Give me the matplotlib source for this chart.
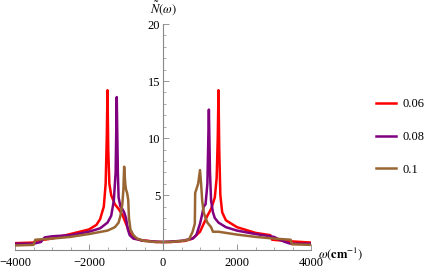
import matplotlib
matplotlib.use("Agg")
import matplotlib.pyplot as plt
from matplotlib.ticker import MultipleLocator

# values (omega in cm^-1, N~(omega))
w_006 = [-4000, -3500, -3450, -3000, -2500, -2000, -1800, -1700, -1600, -1550, -1520, -1500,
         -1480, -1450, -1400, -1300, -1200, -1100, -1000, -900, -800, -600, -400, -200, 0,
         200, 400, 600, 800, 1000, 1100, 1200, 1300, 1400, 1450, 1480, 1500,
         1520, 1550, 1600, 1700, 2000, 2500, 2900, 2950, 3500, 4000]
n_006 = [0.8, 0.85, 1.0, 1.2, 1.6, 2.0, 2.4, 2.9, 4.0, 6.0, 10.0, 14.2,
         9.0, 6.0, 5.0, 4.2, 3.8, 3.3, 2.5, 1.7, 1.3, 1.05, 1.0, 0.9, 0.9,
         0.9, 0.95, 1.0, 1.2, 1.8, 2.5, 3.2, 3.8, 4.8, 6.5, 10.0, 14.2,
         9.0, 5.0, 3.5, 2.8, 2.2, 1.7, 1.5, 1.1, 0.95, 0.85]

w_008 = [-4000, -3500, -3300, -3200, -3000, -2500, -2000, -1700, -1500, -1400, -1330, -1280,
         -1250, -1220, -1200, -1150, -1100, -1050, -1000, -950, -900, -800, -500, 0,
         500, 800, 900, 1000, 1050, 1100, 1150, 1200, 1240, 1270, 1300, 1350, 1400,
         1500, 1700, 2000, 2500, 3000, 3150, 3300, 3450, 4000]
n_008 = [0.75, 0.75, 0.9, 1.3, 1.4, 1.5, 1.8, 2.1, 2.6, 3.2, 4.5, 7.0,
         13.6, 7.0, 4.8, 4.0, 3.8, 3.5, 3.0, 2.0, 1.5, 1.2, 1.0, 0.9,
         1.0, 1.2, 1.5, 2.5, 3.2, 4.0, 4.2, 6.0, 12.5, 7.0, 4.5, 3.5, 3.0,
         2.6, 2.2, 1.9, 1.6, 1.35, 1.1, 0.9, 0.75, 0.75]

w_01 = [-4000, -3500, -3450, -3000, -2500, -2000, -1500, -1300, -1200, -1150, -1100, -1070,
        -1050, -1020, -1000, -970, -940, -920, -880, -800, -700, -500, -200, 0,
        200, 500, 700, 800, 860, 870, 900, 950, 1000, 1030, 1060, 1100, 1150, 1200,
        1300, 1350, 1500, 2000, 2500, 3000, 3450, 3480, 4000]
n_01 = [0.6, 0.65, 1.1, 1.2, 1.35, 1.6, 1.9, 2.2, 2.6, 3.2, 4.2, 5.5,
        7.5, 6.0, 5.5, 5.2, 4.6, 3.0, 2.0, 1.5, 1.2, 1.0, 0.9, 0.9,
        0.9, 1.0, 1.1, 1.8, 2.5, 5.2, 5.5, 6.0, 7.2, 6.0, 4.5, 3.5, 3.0, 2.6,
        2.2, 1.8, 1.8, 1.55, 1.35, 1.2, 1.1, 0.7, 0.65]

labels = ["0.06", "0.08", "0.1"]
colors = ["#ff0000", "#800080", "#996633"]

plt.rcParams["font.family"] = ["Liberation Serif", "DejaVu Serif"]
plt.rcParams["mathtext.fontset"] = "stix"

fig = plt.figure(figsize=(4.36, 2.73), dpi=100)
ax = fig.add_axes([15 / 436, 23 / 273, 296 / 436, 226 / 273])

for w, n, lab, c in zip([w_006, w_008, w_01], [n_006, n_008, n_01], labels, colors):
    ax.plot(w, n, color=c, lw=1.8, label=lab)

ax.set_xlim(-4000, 4000)
ax.set_ylim(0.2, 20)

# Mathematica-style axes crossing at the origin
ax.spines["left"].set_position(("data", 0))
ax.spines["bottom"].set_position(("data", 0.2))
ax.spines["top"].set_visible(False)
ax.spines["right"].set_visible(False)
for s in ["left", "bottom"]:
    ax.spines[s].set_color("#888888")
    ax.spines[s].set_linewidth(0.8)

ax.set_xticks([-4000, -2000, 0, 2000, 4000])
ax.set_xticklabels(["\u22124000", "\u22122000", "0", "2000", "4000"])
ax.set_yticks([5, 10, 15, 20])
ax.xaxis.set_minor_locator(MultipleLocator(500))
ax.yaxis.set_minor_locator(MultipleLocator(1))
ax.tick_params(which="major", direction="in", length=4, width=0.6, color="#888888",
               labelsize=9, pad=2)
ax.tick_params(axis="x", which="major", pad=5)
ax.tick_params(which="minor", direction="in", length=2, width=0.5, color="#888888")

ax.text(0, 20.6, r"$\tilde{N}(\omega)$", ha="center", va="bottom", fontsize=9)
ax.text(4200, -0.1, r"$\omega(\mathbf{cm}^{-1})$", ha="left", va="center", fontsize=9)

ax.legend(loc="center left", bbox_to_anchor=(376 / 436, 1 - 137 / 273),
          bbox_transform=fig.transFigure, frameon=False, fontsize=9,
          handlelength=1.6, handletextpad=0.5, labelspacing=1.65,
          borderpad=0, borderaxespad=0)

fig.savefig("out.png", dpi=100)
